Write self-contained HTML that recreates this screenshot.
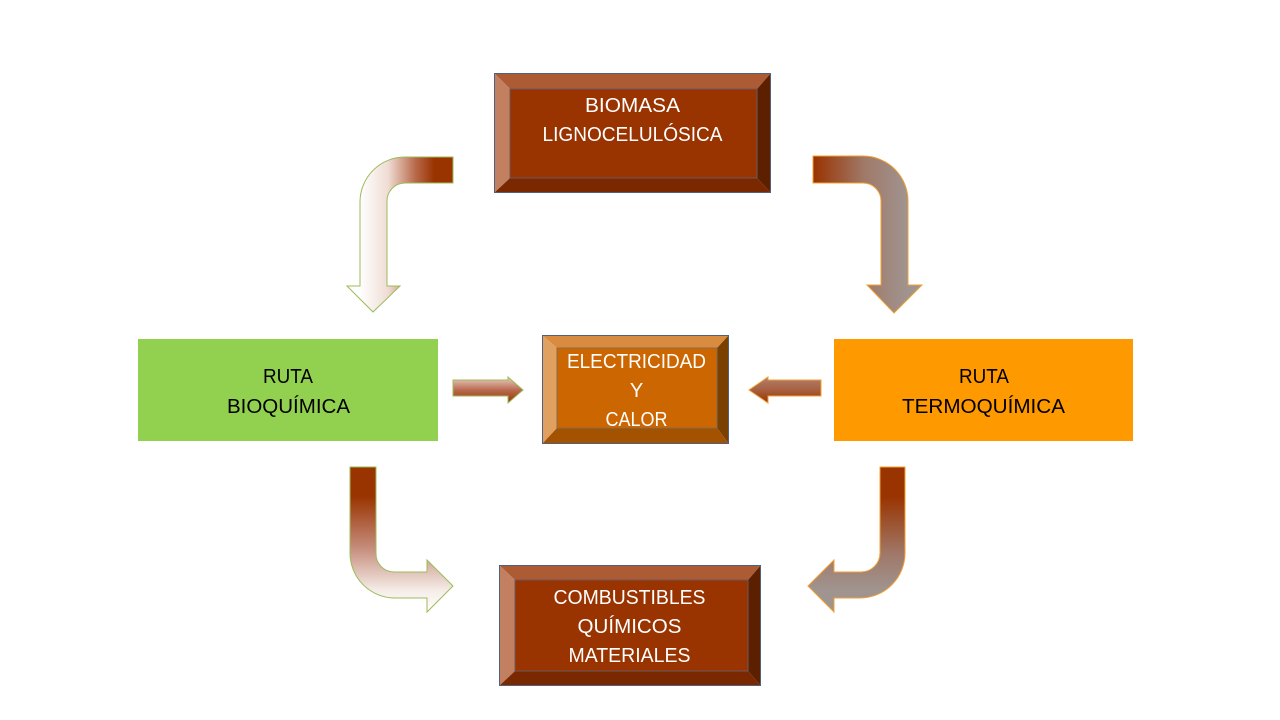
<!DOCTYPE html>
<html><head><meta charset="utf-8"><style>
html,body{margin:0;padding:0;background:#fff;}
svg{display:block;}
text{font-family:"Liberation Sans",sans-serif;font-size:20px;}
</style></head><body>
<svg width="1280" height="720" viewBox="0 0 1280 720" xmlns="http://www.w3.org/2000/svg">
<defs>
<linearGradient id="gTL" gradientUnits="userSpaceOnUse" x1="360" y1="0" x2="453" y2="0">
<stop offset="0" stop-color="#ffffff"/><stop offset="0.3" stop-color="#F0DDD5"/><stop offset="0.6" stop-color="#B8684A"/><stop offset="0.8" stop-color="#993300"/><stop offset="1" stop-color="#993300"/>
</linearGradient>
<linearGradient id="gTR" gradientUnits="userSpaceOnUse" x1="813" y1="0" x2="908" y2="0">
<stop offset="0" stop-color="#993300"/><stop offset="0.55" stop-color="#A07A6A"/><stop offset="1" stop-color="#A09490"/>
</linearGradient>
<linearGradient id="gBL" gradientUnits="userSpaceOnUse" x1="0" y1="467" x2="0" y2="612">
<stop offset="0" stop-color="#993300"/><stop offset="0.2" stop-color="#993300"/><stop offset="0.55" stop-color="#C48A78"/><stop offset="0.85" stop-color="#F5ECE8"/><stop offset="1" stop-color="#ffffff"/>
</linearGradient>
<linearGradient id="gBR" gradientUnits="userSpaceOnUse" x1="0" y1="467" x2="0" y2="612">
<stop offset="0" stop-color="#993300"/><stop offset="0.2" stop-color="#993300"/><stop offset="0.6" stop-color="#A07868"/><stop offset="0.85" stop-color="#A09490"/><stop offset="1" stop-color="#A09490"/>
</linearGradient>
<linearGradient id="gSL" gradientUnits="userSpaceOnUse" x1="0" y1="377" x2="0" y2="403">
<stop offset="0" stop-color="#EBD0C4"/><stop offset="0.5" stop-color="#B86A50"/><stop offset="1" stop-color="#993300"/>
</linearGradient>
<linearGradient id="gSR" gradientUnits="userSpaceOnUse" x1="0" y1="377" x2="0" y2="403">
<stop offset="0" stop-color="#B08070"/><stop offset="0.5" stop-color="#A86040"/><stop offset="1" stop-color="#993300"/>
</linearGradient>
</defs>

<!-- BIOMASA box -->
<g>
<polygon points="494,73 771,73 757,89 510,89" fill="#AD5B35"/>
<polygon points="494,73 510,89 510,178 494,193" fill="#C28060"/>
<polygon points="771,73 771,193 757,178 757,89" fill="#5C2000"/>
<polygon points="494,193 510,178 757,178 771,193" fill="#7A2800"/>
<rect x="510" y="89" width="247" height="89" fill="#993300" stroke="#6B5A60" stroke-width="1"/>
<rect x="494.5" y="73.5" width="276" height="119" fill="none" stroke="#4F6080" stroke-width="1"/>
<text x="632.5" y="112" fill="#fff" text-anchor="middle" textLength="95" lengthAdjust="spacingAndGlyphs">BIOMASA</text>
<text x="632.5" y="141" fill="#fff" text-anchor="middle" textLength="180" lengthAdjust="spacingAndGlyphs">LIGNOCELULÓSICA</text>
</g>

<!-- ELECTRICIDAD box -->
<g>
<polygon points="542,335 729,335 717,348 557,348" fill="#D98C40"/>
<polygon points="542,335 557,348 557,428 542,444" fill="#E0A060"/>
<polygon points="729,335 729,444 717,428 717,348" fill="#7A4000"/>
<polygon points="542,444 557,428 717,428 729,444" fill="#A35200"/>
<rect x="557" y="348" width="160" height="80" fill="#CC6600" stroke="#8A6A50" stroke-width="1"/>
<rect x="542.5" y="335.5" width="186" height="108" fill="none" stroke="#4F6080" stroke-width="1"/>
<text x="636.5" y="368" fill="#fff" text-anchor="middle" textLength="139" lengthAdjust="spacingAndGlyphs">ELECTRICIDAD</text>
<text x="636.5" y="397" fill="#fff" text-anchor="middle">Y</text>
<text x="636.5" y="426" fill="#fff" text-anchor="middle" textLength="62" lengthAdjust="spacingAndGlyphs">CALOR</text>
</g>

<!-- COMBUSTIBLES box -->
<g>
<polygon points="499,565 761,565 748,580 515,580" fill="#AD5B35"/>
<polygon points="499,565 515,580 515,671 499,686" fill="#C28060"/>
<polygon points="761,565 761,686 748,671 748,580" fill="#5C2000"/>
<polygon points="499,686 515,671 748,671 761,686" fill="#7A2800"/>
<rect x="515" y="580" width="233" height="91" fill="#993300" stroke="#6B5A60" stroke-width="1"/>
<rect x="499.5" y="565.5" width="261" height="120" fill="none" stroke="#4F6080" stroke-width="1"/>
<text x="629.5" y="604" fill="#fff" text-anchor="middle" textLength="152" lengthAdjust="spacingAndGlyphs">COMBUSTIBLES</text>
<text x="629.5" y="633" fill="#fff" text-anchor="middle" textLength="104" lengthAdjust="spacingAndGlyphs">QUÍMICOS</text>
<text x="629.5" y="662" fill="#fff" text-anchor="middle" textLength="122" lengthAdjust="spacingAndGlyphs">MATERIALES</text>
</g>

<!-- RUTA BIOQUIMICA -->
<rect x="138" y="339" width="300" height="102" fill="#92D050"/>
<text x="288" y="383" fill="#000" text-anchor="middle" textLength="50" lengthAdjust="spacingAndGlyphs">RUTA</text>
<text x="288.5" y="413" fill="#000" text-anchor="middle" textLength="123" lengthAdjust="spacingAndGlyphs">BIOQUÍMICA</text>

<!-- RUTA TERMOQUIMICA -->
<rect x="834" y="339" width="299" height="102" fill="#FF9900"/>
<text x="984" y="383" fill="#000" text-anchor="middle" textLength="50" lengthAdjust="spacingAndGlyphs">RUTA</text>
<text x="983.5" y="413" fill="#000" text-anchor="middle" textLength="163" lengthAdjust="spacingAndGlyphs">TERMOQUÍMICA</text>

<!-- Top-left curved arrow -->
<path d="M453,157 L405,157 A45,45 0 0 0 360,202 L360,286 L347,286 L373,312 L400,286 L387,286 L387,201 A18,18 0 0 1 405,183 L453,183 Z" fill="url(#gTL)" stroke="#9BBB59" stroke-width="1"/>

<!-- Top-right curved arrow -->
<path d="M813,156 L863,156 A45,45 0 0 1 908,201 L908,285 L922,285 L894,313 L867,285 L881,285 L881,201 A18,18 0 0 0 863,183 L813,183 Z" fill="url(#gTR)" stroke="#F0A030" stroke-width="1"/>

<!-- Bottom-left curved arrow -->
<path d="M350,467 L376,467 L376,554 A18,18 0 0 0 394,572 L427,572 L427,560 L453,586 L427,612 L427,598 L395,598 A45,45 0 0 1 350,553 Z" fill="url(#gBL)" stroke="#9BBB59" stroke-width="1"/>

<!-- Bottom-right curved arrow -->
<path d="M905,467 L880,467 L880,553 A19,19 0 0 1 861,572 L834,572 L834,560 L808,586 L834,612 L834,598 L860,598 A45,45 0 0 0 905,553 Z" fill="url(#gBR)" stroke="#F0A030" stroke-width="1"/>

<!-- small right arrow (left side) -->
<path d="M453,380 L508,380 L508,377 L523,390 L508,403 L508,396 L453,396 Z" fill="url(#gSL)" stroke="#9BBB59" stroke-width="1"/>

<!-- small left arrow (right side) -->
<path d="M821,380 L768,380 L768,377 L749,390 L768,403 L768,396 L821,396 Z" fill="url(#gSR)" stroke="#F0A030" stroke-width="1"/>
</svg>
</body></html>
